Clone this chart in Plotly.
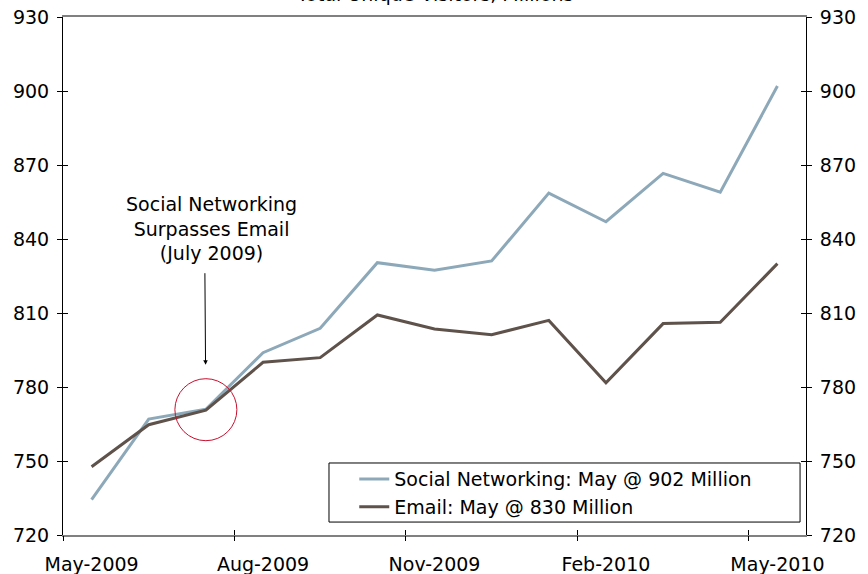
import plotly.graph_objects as go

# Monthly total unique visitors (millions), May-2009 .. May-2010
months = ["May-2009", "Jun-2009", "Jul-2009", "Aug-2009", "Sep-2009", "Oct-2009",
          "Nov-2009", "Dec-2009", "Jan-2010", "Feb-2010", "Mar-2010", "Apr-2010", "May-2010"]
social = [734.3, 767.0, 771.0, 793.9, 803.8, 830.4, 827.3, 831.1, 858.6, 847.0, 866.6, 859.0, 902.0]
email = [747.7, 764.7, 770.6, 790.0, 791.9, 809.2, 803.5, 801.2, 807.0, 781.7, 805.7, 806.2, 830.0]

series_names = ["Social Networking: May @ 902 Million", "Email: May @ 830 Million"]
tick_labels = ["May-2009", "Aug-2009", "Nov-2009", "Feb-2010", "May-2010"]
title_text = "Total Unique Visitors, Millions"
callout_text = "Social Networking<br>Surpasses Email<br>(July 2009)"

FONT = "DejaVu Sans"
FS = 19
C_SOCIAL = "#8DA9B9"
C_EMAIL = "#5E524A"

idx = list(range(len(months)))
label_pos = [months.index(m) for m in tick_labels]
# tick marks sit on the boundaries between categories
boundary_pos = [p - 0.5 for p in label_pos]
xr = [-0.5, len(months) - 0.5]
yr = [720, 930]
yt = list(range(720, 931, 30))

fig = go.Figure()
fig.add_trace(go.Scatter(x=idx, y=social, mode="lines", name=series_names[0],
                         line=dict(color=C_SOCIAL, width=3)))
fig.add_trace(go.Scatter(x=idx, y=email, mode="lines", name=series_names[1],
                         line=dict(color=C_EMAIL, width=3)))

cross_tick = dict(ticklen=5, tickcolor="black", tickwidth=1, showticklabels=False,
                  showgrid=False, zeroline=False, showline=False, automargin=False)

fig.update_layout(
    width=868, height=574,
    margin=dict(l=63, r=62, t=17, b=39, autoexpand=False),
    paper_bgcolor="white", plot_bgcolor="white",
    font=dict(family=FONT, size=FS, color="black"),
    showlegend=True,
    legend=dict(x=0.392, y=0.017, xanchor="left", yanchor="bottom",
                bgcolor="rgba(0,0,0,0)", borderwidth=0,
                font=dict(family=FONT, size=FS), tracegroupgap=0,
                itemwidth=30),
    xaxis=dict(range=xr, tickmode="array", tickvals=label_pos, ticktext=tick_labels,
               ticks="", showgrid=False, zeroline=False, automargin=False,
               showline=True, linecolor="#808080", linewidth=2, mirror=True,
               tickfont=dict(size=FS), ticklabelstandoff=11),
    xaxis2=dict(overlaying="x", matches="x", range=xr, tickmode="array",
                tickvals=boundary_pos, ticks="outside", **cross_tick),
    xaxis3=dict(overlaying="x", matches="x", range=xr, tickmode="array",
                tickvals=boundary_pos, ticks="inside", **cross_tick),
    yaxis=dict(range=yr, tickmode="array", tickvals=yt, ticks="outside", ticklen=5,
               tickcolor="black", showgrid=False, zeroline=False, automargin=False,
               showline=True, linecolor="black", linewidth=1,
               tickfont=dict(size=FS), ticklabelstandoff=4),
    yaxis2=dict(overlaying="y", side="right", range=yr, tickmode="array", tickvals=yt,
                ticks="outside", ticklen=5, tickcolor="black", showgrid=False,
                zeroline=False, showline=True, linecolor="black", linewidth=1,
                automargin=False, tickfont=dict(size=FS), ticklabelstandoff=4),
    yaxis3=dict(overlaying="y", side="left", range=yr, tickmode="array", tickvals=yt,
                ticks="inside", **cross_tick),
    yaxis4=dict(overlaying="y", side="right", range=yr, tickmode="array", tickvals=yt,
                ticks="inside", **cross_tick),
)

# invisible helpers so the overlay axes are drawn
for xa, ya in [("x2", "y2"), ("x3", "y3"), ("x", "y4")]:
    fig.add_trace(go.Scatter(x=[None], y=[None], xaxis=xa, yaxis=ya,
                             showlegend=False, hoverinfo="skip"))

# legend frame
fig.add_shape(type="rect", xref="paper", yref="paper",
              x0=0.358, x1=0.992, y0=0.025, y1=0.139,
              line=dict(color="black", width=1), fillcolor="white", layer="above")

# crossover marker around July 2009
cross_i = months.index("Jul-2009")
cross_y = (social[cross_i] + email[cross_i]) / 2
fig.add_shape(type="circle", xref="x", yref="y",
              xsizemode="pixel", ysizemode="pixel",
              xanchor=cross_i, yanchor=cross_y,
              x0=-31, x1=31, y0=-31, y1=31,
              line=dict(color="#C8102E", width=1))

# callout text and arrow
fig.add_annotation(x=cross_i, y=cross_y, xref="x", yref="y", text="",
                   showarrow=True, arrowhead=2, arrowsize=0.9, arrowwidth=1,
                   arrowcolor="black", ax=-1, ay=-138, standoff=45)
fig.add_annotation(x=cross_i, y=cross_y, xref="x", yref="y", text=callout_text,
                   showarrow=False, xshift=6, yshift=181, yanchor="middle",
                   font=dict(family=FONT, size=FS, color="black"), align="center")

# chart title, sitting at the top edge of the page
fig.add_annotation(x=0.5, y=1 + 9.5 / 518, xref="paper", yref="paper", text=title_text,
                   showarrow=False, yanchor="bottom",
                   font=dict(family=FONT, size=FS, color="black"))

fig.write_html("out.html")
